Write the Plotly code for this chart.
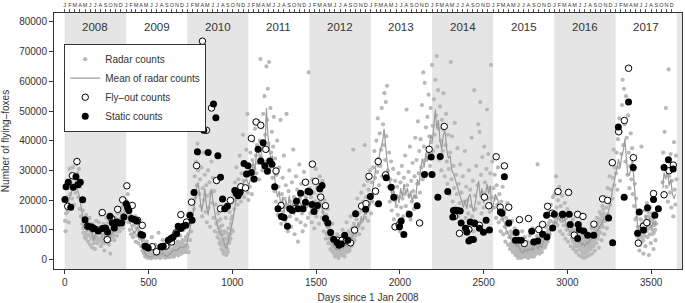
import plotly.graph_objects as go
from datetime import date

# ---------------- data ----------------
month_letters = ["J", "F", "M", "A", "M", "J", "J", "A", "S", "O", "N", "D"]
label_years = list(range(2008, 2018))
shade_years = [2008, 2010, 2012, 2014, 2016, 2018]
x_ticks = [0, 500, 1000, 1500, 2000, 2500, 3000, 3500]
y_ticks = [0, 10000, 20000, 30000, 40000, 50000, 60000, 70000, 80000]

radar_2008 = [(2,13000),(5,9500),(8,15500),(12,21000),(16,16000),(20,19000),(24,12500),(28,30500),(32,22000),(36,26000),(40,28800),(44,20500),(48,31000),(52,24000),(56,18500),(60,27500),(64,22500),(68,32000),(72,25000),(76,29000),(80,21000),(85,30500),(88,17000),(92,24500),(96,14500),(100,20000),(104,12000),(108,16500),(112,9000),(116,13500),(120,7500),(124,11000),(128,15000),(132,8500),(136,12500),(140,6000),(144,10000),(148,14000),(152,5000),(156,9000),(160,12000),(164,4000),(168,8000),(172,11500),(176,6500),(180,3500),(184,10000),(188,13000),(192,7500),(196,5500),(200,9500),(204,12500),(208,7000),(212,15000),(216,4500),(220,10500),(224,8000),(228,5500),(232,12000),(236,3000),(240,9000),(244,7000),(248,14000),(252,10000),(256,6000),(260,12500),(264,5000),(268,8500),(272,2000),(276,10500),(280,7500),(284,13000),(288,9000),(292,11000),(296,6500),(300,14000),(304,10000),(308,12500),(312,8000),(316,15500),(320,11000),(324,13500),(328,9500),(332,16000),(336,12000),(340,17500),(344,14000),(348,10500),(352,18500),(356,13000),(360,16500),(364,20000)]
radar_2009 = [(368,19500),(372,14000),(376,22000),(380,12500),(384,17500),(388,10000),(392,15000),(396,8500),(400,13000),(404,18500),(408,7500),(412,11500),(416,9000),(420,14500),(424,6000),(428,10500),(432,8000),(436,12000),(440,5500),(444,9500),(448,7000),(452,11000),(456,4500),(460,8000),(464,3000),(468,6500),(472,2000),(476,4500),(480,1000),(485,3500),(490,6000),(495,1500),(500,2500),(505,500),(510,4000),(515,1800),(520,7500),(525,1000),(530,3000),(535,800),(540,5000),(545,2000),(550,1200),(555,3500),(560,9000),(565,600),(570,2500),(575,4500),(580,1500),(585,6500),(590,2000),(595,800),(600,3800),(605,1200),(610,5500),(615,2500),(620,800),(625,4000),(630,1500),(635,7000),(640,3000),(645,1000),(650,5000),(655,2200),(660,9500),(665,3500),(670,1800),(675,6000),(680,2800),(685,4500),(690,8000),(695,2000),(700,5500),(705,3200),(710,10000),(715,4000),(720,6500),(725,2500)]
radar_2010 = [(732,4000),(736,8500),(740,2500),(744,12000),(748,6500),(752,15500),(756,9500),(760,19000),(764,13000),(768,23000),(772,17000),(776,28000),(780,21000),(784,33000),(788,25000),(792,39000),(796,30000),(800,35500),(804,22000),(808,27000),(812,18000),(816,31000),(820,14500),(824,24000),(828,36000),(832,20000),(836,28500),(840,16000),(844,25000),(848,12500),(852,21500),(856,30000),(860,17500),(864,26000),(868,11000),(872,22500),(876,33000),(880,19000),(884,27500),(888,14000),(892,23000),(896,9500),(900,18500),(904,12000),(908,26000),(912,7500),(916,15500),(920,10500),(924,5500),(928,13500),(932,8500),(936,3500),(940,11500),(944,6500),(948,2000),(952,9500),(956,4500),(960,14000),(964,1500),(968,7000),(972,3500),(976,10500),(980,5500),(984,16000),(988,8500),(992,12000),(996,19000),(1000,14500),(1004,9500),(1008,22000),(1012,17000),(1016,26000),(1020,20000),(1024,31000),(1028,23500),(1032,18500),(1036,27000),(1040,21500),(1044,35000),(1048,25000),(1052,19500),(1056,29000),(1060,23000),(1064,42000),(1068,26500),(1072,21000),(1076,31500),(1080,24500),(1084,37000),(1088,28000),(1090,49000),(1092,22500)]
radar_2011 = [(1096,20000),(1100,31000),(1104,24500),(1108,36000),(1112,28000),(1116,22000),(1120,33500),(1124,40000),(1128,26500),(1132,30500),(1136,44000),(1140,35000),(1144,29000),(1148,38500),(1152,32500),(1156,46500),(1160,27000),(1164,40000),(1168,67500),(1172,34500),(1176,44500),(1180,30000),(1184,49000),(1188,37500),(1192,55000),(1196,42000),(1200,33000),(1204,65000),(1208,47000),(1212,57500),(1216,39000),(1220,66500),(1224,31000),(1228,51000),(1232,36000),(1236,43000),(1240,27500),(1244,38000),(1248,48000),(1252,23000),(1256,34000),(1260,19500),(1264,28500),(1268,40000),(1272,15000),(1276,24500),(1280,31000),(1284,18000),(1288,47000),(1292,12000),(1296,22000),(1300,27500),(1304,16000),(1308,35000),(1312,20500),(1316,13000),(1320,25000),(1324,49000),(1328,17500),(1332,9500),(1336,23000),(1340,30000),(1344,14500),(1348,19500),(1352,11000),(1356,26000),(1360,16500),(1364,37000),(1368,21000),(1372,8500),(1376,18500),(1380,28000),(1384,13500),(1388,23500),(1392,6000),(1396,17000),(1400,32000),(1404,20500),(1408,12500),(1412,25500),(1416,15500),(1420,9500),(1424,22000),(1428,29500),(1432,16500),(1436,11500),(1440,21000),(1444,18000),(1448,26000),(1452,14000),(1456,63000)]
radar_2012 = [(1462,24000),(1466,15500),(1470,21000),(1474,12500),(1478,27000),(1482,18000),(1486,22500),(1490,10500),(1494,19500),(1498,30500),(1502,14500),(1506,24000),(1510,17000),(1514,21500),(1518,12000),(1522,28000),(1526,19000),(1530,23000),(1534,14000),(1538,26500),(1542,16000),(1546,9500),(1550,20000),(1554,12500),(1558,7000),(1562,15000),(1566,9000),(1570,17000),(1574,5500),(1578,11000),(1582,7500),(1586,3500),(1590,9500),(1594,5000),(1598,12000),(1602,2500),(1606,7000),(1610,4000),(1614,1000),(1618,6000),(1622,2000),(1626,8500),(1630,3500),(1634,500),(1638,5500),(1642,2500),(1646,7500),(1650,1500),(1654,4500),(1658,10000),(1662,3000),(1666,6500),(1670,1000),(1674,8000),(1678,4000),(1682,12500),(1686,2500),(1690,6000),(1694,9500),(1698,3500),(1702,7000),(1706,14500),(1710,5000),(1714,10500),(1718,8000),(1722,37000),(1726,12000),(1730,6500),(1734,16000),(1738,9500),(1742,13500),(1746,20500),(1750,11000),(1754,15500),(1758,8500),(1762,18000),(1766,12500),(1770,22500),(1774,16500),(1778,10500),(1782,19500),(1786,25000),(1790,38500),(1794,14000),(1798,21000),(1802,17500),(1806,26500),(1810,13000),(1814,23500),(1818,19000),(1822,30000)]
radar_2013 = [(1828,15500),(1832,26000),(1836,19500),(1840,31000),(1844,22500),(1848,36500),(1852,27500),(1856,18500),(1860,40000),(1864,29500),(1868,47500),(1872,34000),(1876,25000),(1880,42500),(1884,31500),(1888,37000),(1892,51000),(1896,28000),(1900,45500),(1904,38500),(1908,56000),(1912,33500),(1916,53000),(1920,41500),(1924,58500),(1928,30000),(1932,24500),(1936,36000),(1940,19500),(1944,27000),(1948,33000),(1952,16500),(1956,23000),(1960,30500),(1964,13500),(1968,20000),(1972,26500),(1976,11000),(1980,18000),(1984,24500),(1988,15000),(1992,29000),(1996,21000),(2000,9500),(2004,26000),(2008,17500),(2012,31500),(2016,20500),(2020,14500),(2024,27500),(2028,22000),(2032,35000),(2036,18000),(2040,50500),(2044,25000),(2048,16000),(2052,29500),(2056,21500),(2060,38000),(2064,13500),(2068,26500),(2072,19500),(2076,32500),(2080,23000),(2084,17000),(2088,28000),(2092,41000),(2096,21000),(2100,33500),(2104,25500),(2108,46500),(2112,29000),(2116,36500),(2120,22500),(2124,40500),(2128,31000),(2132,52000),(2136,27000),(2140,63000),(2144,38000),(2148,59500),(2152,33500),(2156,44500),(2160,29000),(2164,48000),(2168,36000),(2172,55500),(2176,41500),(2180,31500),(2184,51000),(2188,39500)]
radar_2014 = [(2192,65500),(2196,45000),(2200,36500),(2204,54000),(2208,42000),(2212,60500),(2216,48500),(2220,68500),(2224,38000),(2228,57000),(2232,44000),(2236,33500),(2240,51500),(2244,40000),(2248,30000),(2252,47000),(2256,36500),(2260,56000),(2264,43500),(2268,28000),(2272,38500),(2276,49000),(2280,33000),(2284,25500),(2288,42000),(2292,30500),(2296,22000),(2300,36000),(2304,66500),(2308,27000),(2312,41500),(2316,19500),(2320,31500),(2324,24000),(2328,46000),(2332,17500),(2336,28500),(2340,22000),(2344,37500),(2348,14500),(2352,25500),(2356,19000),(2360,32000),(2364,12500),(2368,22500),(2372,16500),(2376,28000),(2380,10500),(2384,19500),(2388,36500),(2392,14000),(2396,24500),(2400,8500),(2404,20000),(2408,15500),(2412,30000),(2416,12000),(2420,23500),(2424,18000),(2428,41000),(2432,14500),(2436,26500),(2440,9500),(2444,57000),(2448,21500),(2452,17000),(2456,31500),(2460,12500),(2464,25000),(2468,45500),(2472,19000),(2476,43000),(2480,53000),(2484,28500),(2488,15500),(2492,34500),(2496,22500),(2500,17500),(2504,38000),(2508,26000),(2512,13500),(2516,30500),(2520,50500),(2524,20500),(2528,35500),(2532,24000),(2536,16000),(2540,29000),(2544,65500),(2548,21000),(2552,33000)]
radar_2015 = [(2558,24000),(2562,17500),(2566,28500),(2570,20500),(2574,14000),(2578,25000),(2582,18500),(2586,31000),(2590,12500),(2594,22000),(2598,16000),(2602,9500),(2606,19500),(2610,13500),(2614,24500),(2618,8500),(2622,16500),(2626,11000),(2630,6000),(2634,14000),(2638,9000),(2642,19000),(2646,5000),(2650,11500),(2654,7500),(2658,3500),(2662,9500),(2666,5500),(2670,13000),(2674,2500),(2678,7000),(2682,4000),(2686,10500),(2690,1500),(2694,6000),(2698,3000),(2702,8500),(2706,500),(2710,4500),(2714,2000),(2718,6500),(2722,1000),(2726,3500),(2730,9500),(2734,1500),(2738,5000),(2742,2500),(2746,7500),(2750,1000),(2754,4000),(2758,2000),(2762,6000),(2766,500),(2770,3500),(2774,8000),(2778,2000),(2782,5500),(2786,1000),(2790,4500),(2794,10500),(2798,2500),(2802,6500),(2806,1500),(2810,5000),(2814,3000),(2818,8000),(2822,32000),(2826,4000),(2830,7000),(2834,2000),(2838,5500),(2842,9500),(2846,3500),(2850,7500),(2854,12000),(2858,5000),(2862,9000),(2866,4000),(2870,11000),(2874,7000),(2878,14500),(2882,6000),(2886,10000),(2890,16000),(2894,8500),(2898,13000),(2902,18500),(2906,10500),(2910,15000),(2914,21000),(2918,12500)]
radar_2016 = [(2924,22000),(2928,14000),(2932,28000),(2936,17500),(2940,11500),(2944,20000),(2948,15000),(2952,24500),(2956,9500),(2960,18000),(2964,13000),(2968,21500),(2972,8500),(2976,16000),(2980,11500),(2984,19000),(2988,7000),(2992,14000),(2996,10000),(3000,17000),(3004,6000),(3008,12000),(3012,8500),(3016,15000),(3020,4500),(3024,10500),(3028,7000),(3032,13500),(3036,3500),(3040,9000),(3044,5500),(3048,11500),(3052,2500),(3056,7500),(3060,4500),(3064,10000),(3068,1500),(3072,6500),(3076,3500),(3080,8500),(3084,1000),(3088,5000),(3092,2500),(3096,7500),(3100,500),(3104,4500),(3108,2000),(3112,9500),(3116,1000),(3120,5500),(3124,3000),(3128,8000),(3132,1500),(3136,6000),(3140,3500),(3144,10500),(3148,2000),(3152,7000),(3156,4500),(3160,12000),(3164,3000),(3168,8500),(3172,5500),(3176,14000),(3180,7000),(3184,10500),(3188,4000),(3192,16000),(3196,9000),(3200,13000),(3204,6500),(3208,18000),(3212,11000),(3216,15500),(3220,8500),(3224,21000),(3228,13000),(3232,17500),(3236,10500),(3240,24000),(3244,15000),(3248,20000),(3252,28000),(3256,18500),(3260,23500),(3264,33000),(3268,20500),(3272,27500),(3276,37000),(3280,25000),(3284,31000)]
radar_2017 = [(3290,29000),(3294,36000),(3298,23500),(3302,40500),(3306,31000),(3310,47500),(3314,26500),(3318,43000),(3322,35500),(3326,52000),(3330,60500),(3334,38500),(3338,57500),(3342,45500),(3346,33000),(3350,55000),(3354,41000),(3358,28500),(3362,48500),(3366,36000),(3370,24000),(3374,31500),(3378,42500),(3382,27000),(3386,37500),(3390,22000),(3394,30000),(3398,18000),(3402,25500),(3406,13500),(3410,20500),(3414,9500),(3418,15500),(3422,5500),(3426,11000),(3430,3000),(3434,8000),(3438,13500),(3442,38000),(3446,6000),(3450,11500),(3454,2000),(3458,9000),(3462,16500),(3466,4500),(3470,12500),(3474,19000),(3478,7500),(3482,14500),(3486,1500),(3490,10500),(3494,17500),(3498,5500),(3502,13000),(3506,8500),(3510,20000),(3514,3500),(3518,11500),(3522,15500),(3526,6500),(3530,12000),(3568,26000),(3572,36000),(3576,21500),(3580,43000),(3584,30500),(3588,51000),(3592,24500),(3596,33500),(3600,19500),(3604,64000),(3608,28000),(3612,22500),(3616,35500),(3620,17500),(3624,26500),(3628,31000),(3632,14500),(3636,39500),(3640,23500),(3644,18500),(3648,35000),(3651,27000)]

# extra radar counts in the dense low-season clouds
radar_trough_2008 = [(110,10500),(118,9000),(126,7000),(134,10000),(142,8000),(150,11500),(158,7000),(166,9500),(174,5500),(182,8000),(190,10500),(198,6500),(206,9000),(214,11000),(222,6000),(230,8500),(238,5500),(246,10000),(254,8000),(262,9500),(270,6500),(278,9000),(286,11000),(294,8000),(302,12000),(310,9500),(318,13000),(326,10500),(334,12500),(342,15000)]
radar_trough_2009 = [(474,3000),(478,5000),(483,2000),(488,3800),(493,600),(498,4500),(503,2200),(508,1200),(513,3000),(518,400),(523,2600),(528,4800),(533,1500),(538,3200),(543,600),(548,2800),(553,4200),(558,1000),(563,3400),(568,1800),(573,600),(578,3200),(583,2400),(588,4200),(593,1400),(598,2800),(603,600),(608,3600),(613,1600),(618,4400),(623,2400),(628,800),(633,3200),(638,5200),(643,2000),(648,3600),(653,1000),(658,4000),(663,2400),(668,5000),(673,3000),(678,1400),(683,3800),(688,5600),(693,2800),(698,4200),(703,6500),(708,2400),(713,5000),(718,3400),(723,7500),(728,4800)]
radar_trough_2010 = [(914,9000),(918,13000),(922,7000),(926,11000),(930,5000),(934,9500),(938,6000),(942,3000),(946,8500),(950,5000),(954,2500),(958,7000),(962,4000),(966,9000),(970,5500),(974,2500),(978,8000),(982,6000),(986,10500),(990,7000),(994,13500),(998,10000)]
radar_trough_2012 = [(1560,12000),(1564,8500),(1568,14000),(1572,9000),(1576,7000),(1580,10000),(1584,5500),(1588,8000),(1592,3000),(1596,7000),(1600,4500),(1604,6000),(1608,2000),(1612,5500),(1616,3500),(1620,4500),(1624,1500),(1628,5000),(1632,3000),(1636,6500),(1640,2000),(1644,4500),(1648,3000),(1652,6000),(1656,2000),(1660,4500),(1664,1500),(1668,5000),(1672,3500),(1676,6500),(1680,2500),(1684,5500),(1688,4000),(1692,7500),(1696,5000),(1700,3000),(1704,6000),(1708,8500),(1712,4500),(1716,7000),(1720,9500),(1724,6000),(1728,8500),(1732,11000),(1736,8000),(1740,10500)]
radar_trough_2015 = [(2660,7500),(2664,4500),(2668,8500),(2672,5000),(2676,3000),(2680,6000),(2684,2500),(2688,5000),(2692,3500),(2696,1500),(2700,4500),(2704,2500),(2708,3500),(2712,1000),(2716,4000),(2720,2500),(2724,500),(2728,3000),(2732,2000),(2736,4000),(2740,1000),(2744,3000),(2748,4500),(2752,2000),(2756,3500),(2760,1000),(2764,4000),(2768,2500),(2772,1500),(2776,4500),(2780,3000),(2784,1500),(2788,5500),(2792,2500),(2796,4000),(2800,1000),(2804,3500),(2808,5000),(2812,2000),(2816,4500),(2820,2500),(2824,6000),(2828,3000),(2832,4500),(2836,7000),(2840,3500),(2844,5000),(2848,2500),(2852,6500),(2856,4000),(2860,7500),(2864,5500),(2868,8500),(2872,5000),(2876,9000),(2880,6500),(2884,11500),(2888,8000),(2892,12500),(2896,10000)]
radar_trough_2016 = [(3030,8500),(3034,6000),(3038,10000),(3042,7000),(3046,4500),(3050,8000),(3054,6000),(3058,3000),(3062,7000),(3066,5000),(3070,8500),(3074,4000),(3078,6000),(3082,3000),(3086,7000),(3090,4500),(3094,2000),(3098,6000),(3102,3500),(3106,6500),(3110,4000),(3114,2500),(3118,7000),(3122,4500),(3126,6000),(3130,3500),(3134,8000),(3138,5000),(3142,7000),(3146,4500),(3150,9000),(3154,6000),(3158,8000),(3162,5500),(3166,10000),(3170,7000),(3174,9000),(3178,11500),(3182,8000),(3186,12500),(3190,9500),(3194,13500),(3198,11000),(3202,15000),(3206,12000),(3210,14500),(3214,17000),(3218,13000)]
radar_trough_2017 = [(3412,14000),(3416,8000),(3420,11000),(3424,7000),(3428,9500),(3432,5000),(3436,10500),(3440,7500),(3444,12000),(3448,9000),(3452,6500),(3456,12500),(3460,8000),(3464,11000),(3468,14500),(3472,9500),(3476,13000),(3480,10500),(3484,16000),(3488,12000),(3492,8500),(3496,14000),(3500,11000),(3504,15500),(3508,10000),(3512,13500),(3516,9000),(3520,12500),(3524,10000),(3528,14500)]

mean_points = [(0,18000),(12,16500),(24,20000),(36,22000),(48,24500),(58,25500),(66,26500),(75,23500),(85,22000),(95,19000),(105,15000),(115,12000),(125,10500),(135,9500),(145,11000),(155,10500),(165,8000),(175,6500),(185,9000),(195,8800),(205,10500),(215,9500),(225,7000),(234,6500),(244,9500),(254,11000),(264,8000),(274,7500),(284,9000),(295,10000),(305,11500),(314,12000),(325,11000),(335,13000),(343,14300),(353,15500),(363,17600),(373,15500),(383,14300),(393,12000),(403,10000),(413,8800),(425,9500),(435,11000),(445,9500),(455,7000),(465,4300),(475,2500),(485,1500),(495,1000),(510,800),(525,1200),(540,1500),(555,1200),(572,2100),(590,1800),(611,1000),(630,2000),(651,3200),(670,3000),(691,4300),(708,4000),(727,4800),(747,10400),(762,14000),(777,19300),(787,24000),(796,26000),(806,21000),(817,16000),(826,19000),(836,23800),(846,18000),(856,14900),(866,20000),(876,23800),(886,19000),(896,15000),(906,12500),(916,10400),(930,8500),(945,7100),(955,5000),(965,3700),(975,6000),(985,8200),(995,11000),(1005,13800),(1015,18000),(1025,21500),(1040,23000),(1056,24900),(1070,26000),(1085,27000),(1100,25000),(1115,29000),(1125,33000),(1135,30000),(1145,36000),(1155,37000),(1165,33000),(1175,36500),(1185,40000),(1195,38000),(1204,51000),(1212,42000),(1220,37000),(1230,33500),(1240,35000),(1250,28000),(1260,24000),(1270,21000),(1280,23000),(1290,17500),(1300,21000),(1310,16000),(1320,20000),(1330,17000),(1340,21500),(1350,16500),(1360,19000),(1370,15000),(1380,21000),(1390,18000),(1400,22000),(1410,17000),(1420,20000),(1430,17500),(1440,21000),(1450,18000),(1460,19500),(1470,17000),(1480,20000),(1490,16500),(1500,19000),(1510,17000),(1520,20500),(1530,18000),(1540,16500),(1550,13000),(1560,11000),(1570,10500),(1580,8000),(1590,6500),(1600,5200),(1610,4000),(1620,3200),(1630,4500),(1640,3000),(1650,5000),(1660,3500),(1670,5500),(1680,4200),(1690,6500),(1700,5000),(1710,7500),(1720,8000),(1730,10500),(1740,9000),(1750,12500),(1760,11000),(1770,14500),(1780,12500),(1790,16000),(1800,15000),(1810,18500),(1820,17500),(1830,21000),(1840,24000),(1850,28000),(1860,33000),(1870,31000),(1880,36000),(1890,38000),(1898,40000),(1906,44000),(1914,38000),(1924,33000),(1935,28000),(1945,25000),(1955,21000),(1965,23000),(1975,18500),(1985,22000),(1995,19000),(2005,24000),(2015,21000),(2025,25500),(2035,22000),(2045,24000),(2055,20500),(2065,23000),(2075,19500),(2085,22000),(2095,20500),(2105,27000),(2115,25000),(2125,31000),(2135,34000),(2145,31000),(2155,36000),(2165,33000),(2175,38000),(2185,42000),(2195,40000),(2205,46000),(2212,50500),(2220,44000),(2230,47000),(2240,40000),(2250,37000),(2260,42000),(2270,43000),(2280,37000),(2290,34000),(2300,35000),(2310,30000),(2320,29000),(2330,27000),(2340,25000),(2350,23000),(2360,21000),(2370,19000),(2380,17500),(2390,20000),(2400,17000),(2410,21000),(2420,22000),(2430,18000),(2440,16000),(2450,19000),(2460,23000),(2470,26500),(2480,21000),(2490,24000),(2500,19000),(2510,21000),(2520,25500),(2530,22000),(2540,25000),(2550,16000),(2560,19000),(2570,22000),(2583,20500),(2595,17000),(2605,15000),(2615,14000),(2625,12000),(2635,10000),(2645,9000),(2655,8000),(2665,7000),(2675,5500),(2685,6500),(2695,4500),(2705,5000),(2715,3500),(2725,2500),(2735,2200),(2745,3500),(2755,2500),(2765,3500),(2775,3000),(2785,4000),(2795,3000),(2805,5000),(2815,4500),(2825,3500),(2835,5000),(2845,4000),(2855,5500),(2865,7000),(2875,6500),(2885,8800),(2895,8500),(2905,11000),(2915,10000),(2925,13000),(2935,12000),(2945,14500),(2955,13000),(2965,15000),(2975,12500),(2985,14000),(2995,11000),(3005,10500),(3015,9000),(3025,10000),(3035,8000),(3045,7500),(3055,6500),(3065,5500),(3075,6000),(3085,4800),(3095,5500),(3105,4500),(3115,6000),(3125,5200),(3135,6500),(3145,7000),(3155,8000),(3165,7500),(3175,9500),(3185,10000),(3195,11500),(3205,12000),(3215,13500),(3225,14500),(3235,15500),(3245,16000),(3255,19000),(3265,22000),(3275,25000),(3285,27000),(3295,30000),(3305,33800),(3315,31000),(3325,35000),(3335,37000),(3343,40600),(3352,34000),(3360,29000),(3370,28200),(3380,32000),(3389,33800),(3398,26000),(3408,19300),(3418,12000),(3429,8200),(3439,9500),(3449,10400),(3460,12500),(3470,14900),(3480,11000),(3490,14000),(3500,10500),(3510,12600),(3520,11500),(3530,13000),(None,None),(3570,24000),(3577,29300),(3587,27000),(3597,30500),(3607,24900),(3617,27000),(3627,22000),(3637,20400),(3645,22000)]

flyout_points = [(18,17900),(46,28200),(73,33000),(135,11200),(167,10400),(197,9900),(224,15800),(254,6700),(280,13800),(316,16900),(346,20100),(371,24800),(403,18200),(435,13200),(463,11500),(489,4300),(522,4300),(548,2600),(582,4300),(604,4500),(638,5900),(664,9000),(693,15100),(727,12600),(757,19300),(787,31600),(822,73500),(846,43500),(876,51000),(906,26600),(930,17100),(989,19900),(1022,23000),(1051,24500),(1079,24100),(1114,40800),(1142,46300),(1170,45200),(1200,37100),(1261,29800),(1291,18200),(1375,17100),(1437,26000),(1478,32100),(1497,26300),(1528,21000),(1556,18100),(1627,6500),(1655,6500),(1681,6300),(1706,5600),(1730,9900),(1772,18000),(1798,18800),(1816,28000),(1855,23000),(1871,33000),(1915,28500),(1971,11000),(1996,11700),(2118,12300),(2175,37100),(2265,44800),(2326,14500),(2356,8800),(2412,10100),(2446,12100),(2475,11500),(2505,21000),(2531,18100),(2575,34600),(2624,31500),(2599,17600),(2650,17600),(2714,13400),(2768,13800),(2743,5400),(2829,10100),(2852,11800),(2882,17900),(2910,15600),(2944,22900),(2971,15100),(3007,22600),(3041,8200),(3061,15200),(3093,14500),(3158,11900),(3210,20400),(3240,19900),(3268,32600),(3306,43000),(3340,46800),(3365,64400),(3394,34300),(3423,5500),(3454,11200),(3474,12400),(3514,22200),(3577,21800),(3607,29900),(3632,31800)]

static_points = [(1,20200),(8,24500),(21,26000),(36,17600),(51,24300),(67,27900),(79,25200),(93,26000),(107,20100),(121,13400),(141,11200),(161,10950),(176,10400),(200,9600),(226,10400),(244,10600),(256,9300),(270,14600),(284,12400),(296,10600),(310,12600),(324,12300),(340,12300),(353,14300),(367,18800),(375,17600),(383,16500),(399,13800),(415,13500),(429,13000),(455,8400),(465,8200),(479,4500),(498,3900),(574,4300),(588,4500),(618,6500),(634,7100),(647,7600),(668,8700),(677,11200),(693,10400),(707,11200),(723,11500),(747,14900),(760,13200),(772,22600),(792,36300),(800,51900),(817,48800),(830,43500),(856,36000),(888,52400),(902,47700),(914,34900),(930,27700),(942,20400),(955,17100),(971,17900),(1015,23200),(1025,22100),(1035,21500),(1047,22600),(1070,32300),(1085,28800),(1094,31600),(1114,29300),(1130,27100),(1154,37100),(1170,33200),(1184,39300),(1194,31600),(1210,29700),(1224,33200),(1237,32100),(1253,24500),(1273,17100),(1293,14500),(1309,14100),(1329,11200),(1343,17100),(1357,16500),(1383,19600),(1392,17100),(1408,22300),(1422,17100),(1437,19300),(1452,23000),(1462,22700),(1476,18500),(1488,16200),(1508,18200),(1522,23800),(1536,24900),(1556,13800),(1571,12300),(1587,9100),(1605,6800),(1625,5700),(1637,4800),(1651,5200),(1671,8200),(1690,6500),(1736,15400),(1796,16900),(1824,21200),(1873,18800),(1919,27500),(1949,24300),(1964,21000),(1998,11000),(2008,13000),(2024,8400),(2056,15200),(2103,18100),(2147,28600),(2187,34500),(2192,28600),(2227,21000),(2241,34700),(2286,22900),(2316,14300),(2320,16500),(2332,16500),(2346,16500),(2360,16300),(2366,12300),(2392,10500),(2400,9300),(2412,6200),(2420,12600),(2424,6700),(2439,6700),(2446,12300),(2475,10500),(2499,9200),(2515,13200),(2535,9900),(2600,16000),(2610,15600),(2624,27900),(2650,12300),(2690,6500),(2694,9100),(2709,6500),(2725,6500),(2787,9500),(2799,5900),(2823,6200),(2852,8500),(2876,14900),(2878,7600),(2912,10600),(2922,15200),(2971,15200),(3011,15200),(3017,11800),(3061,7100),(3065,11800),(3071,10100),(3097,9600),(3121,8200),(3157,8200),(3246,14000),(3270,5600),(3304,44600),(3339,21000),(3365,53000),(3393,31000),(3419,8800),(3429,16000),(3454,9900),(3478,17400),(3514,20200),(3522,14900),(3543,17100),(3577,31000),(3603,33600),(3631,30500)]

# ---------------- helpers ----------------
origin = date(2008, 1, 1)


def day_of(y, m=1, d=1):
    return (date(y, m, d) - origin).days


radar_all = (radar_2008 + radar_2009 + radar_2010 + radar_2011 + radar_2012 +
             radar_2013 + radar_2014 + radar_2015 + radar_2016 + radar_2017 +
             radar_trough_2008 + radar_trough_2009 + radar_trough_2010 +
             radar_trough_2012 + radar_trough_2015 + radar_trough_2016 +
             radar_trough_2017)
radar_day = [p[0] for p in radar_all]
radar_count = [p[1] for p in radar_all]
mean_day = [p[0] for p in mean_points]
mean_count = [p[1] for p in mean_points]
fly_day = [p[0] for p in flyout_points]
fly_count = [p[1] for p in flyout_points]
static_day = [p[0] for p in static_points]
static_count = [p[1] for p in static_points]

month_pos = [day_of(y, m, 1) for y in label_years for m in range(1, 13)]
month_txt = [month_letters[m - 1] for y in label_years for m in range(1, 13)]

FONT = "Liberation Sans, Arial, Helvetica, sans-serif"
TXT = "#333333"
x_range = [-64, 3684]
y_range = [-3200, 83000]

fig = go.Figure()
fig.add_trace(go.Scatter(x=radar_day, y=radar_count, mode="markers",
                         name="Radar counts",
                         marker=dict(size=4.2, color="#b9b9b9", line=dict(width=0))))
fig.add_trace(go.Scatter(x=mean_day, y=mean_count, mode="lines",
                         name="Mean of radar counts", connectgaps=False,
                         line=dict(color="#9c9c9c", width=1.2)))
fig.add_trace(go.Scatter(x=fly_day, y=fly_count, mode="markers",
                         name="Fly\u2013out counts",
                         marker=dict(size=6.5, color="white",
                                     line=dict(color="black", width=1))))
fig.add_trace(go.Scatter(x=static_day, y=static_count, mode="markers",
                         name="Static counts",
                         marker=dict(size=7, color="black", line=dict(width=0))))
# invisible trace to anchor the top month axis
fig.add_trace(go.Scatter(x=[month_pos[0]], y=[0], xaxis="x2", mode="markers",
                         marker=dict(opacity=0), showlegend=False, hoverinfo="skip"))

shapes = []
for y in shade_years:
    shapes.append(dict(type="rect", xref="x", yref="paper",
                       x0=day_of(y), x1=day_of(y + 1), y0=0, y1=1,
                       fillcolor="#e5e5e5", line=dict(width=0), layer="below"))

annotations = []
for y in label_years:
    mid = (day_of(y) + day_of(y + 1)) / 2
    annotations.append(dict(x=mid, y=0.945, xref="x", yref="paper", text=str(y),
                            showarrow=False, font=dict(size=11.5, color=TXT, family=FONT),
                            xanchor="center", yanchor="middle"))

fig.update_layout(
    width=685, height=303,
    margin=dict(l=54, r=2, t=11, b=34),
    paper_bgcolor="white", plot_bgcolor="white",
    font=dict(family=FONT, size=10, color=TXT),
    shapes=shapes, annotations=annotations,
    showlegend=True,
    legend=dict(x=0.0163, y=0.88, xanchor="left", yanchor="top",
                bgcolor="white", bordercolor="#333333", borderwidth=1,
                font=dict(size=10, color=TXT, family=FONT),
                tracegroupgap=0, itemwidth=30),
    xaxis=dict(range=x_range, tickmode="array", tickvals=x_ticks,
               ticks="outside", ticklen=4, tickcolor="#333333",
               showline=True, linecolor="#333333", linewidth=1, mirror=True,
               showgrid=False, zeroline=False,
               tickfont=dict(size=10, color=TXT),
               title=dict(text="Days since 1 Jan 2008", font=dict(size=10, color=TXT), standoff=6)),
    xaxis2=dict(range=x_range, overlaying="x", side="top", anchor="y",
                tickmode="array", tickvals=month_pos, ticktext=month_txt,
                ticks="outside", ticklen=3, tickcolor="#555555", tickangle=0,
                showline=False, showgrid=False, zeroline=False,
                tickfont=dict(size=5.5, color=TXT)),
    yaxis=dict(range=y_range, tickmode="array", tickvals=y_ticks, tickformat="d",
               ticks="outside", ticklen=4, tickcolor="#333333",
               showline=True, linecolor="#333333", linewidth=1, mirror=True,
               showgrid=False, zeroline=False,
               tickfont=dict(size=10, color=TXT),
               title=dict(text="Number of flying\u2013foxes", font=dict(size=10, color=TXT), standoff=8)),
)

fig.write_html("out.html", config={"displayModeBar": False},
               post_script="document.body.style.margin='0';document.body.style.overflow='hidden';")
